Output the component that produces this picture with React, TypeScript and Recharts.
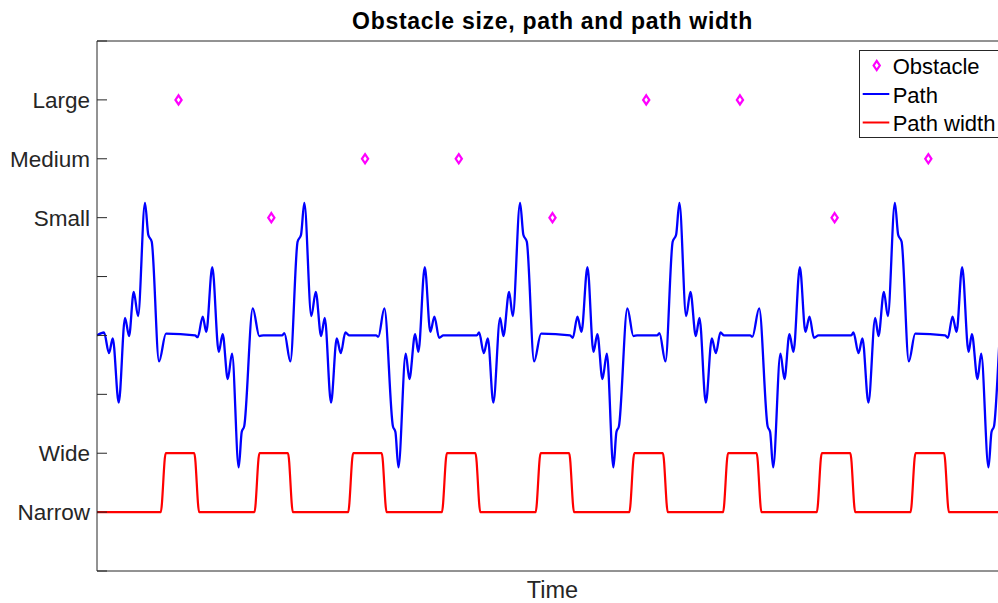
import React from "react";
import { ComposedChart, Line, Scatter, XAxis, YAxis, Legend, Label } from "recharts";

// time axis: one unit per obstacle spacing / 10
const pathTime = [
  0, 0.75, 1.28, 1.68, 2.32, 2.99, 3.42, 3.92, 4.38, 5.12, 5.47, 5.84, 6.62, 7.36,
  10.46, 10.75, 11.28, 11.66, 12.3, 12.99, 13.41, 13.95, 14.41, 15.12, 15.44, 15.71, 16.62, 17.32, 17.75,
  19.74, 19.99, 20.63, 21.4, 21.77, 22.12, 22.87, 23.34, 23.91, 24.3, 24.97, 25.58, 26.01, 26.5, 26.93,
  29.78, 30.02, 30.66, 31.57, 31.84, 32.16, 32.94, 33.33, 33.94, 34.29, 34.97, 35.57, 36.0, 36.5, 36.96,
  40.52, 40.77, 41.27, 41.7, 42.29, 43.01, 43.36, 43.97, 44.36, 45.14, 45.49, 45.86, 46.64, 47.38,
  50.48, 50.77, 51.26, 51.69, 52.33, 52.97, 53.39, 53.93, 54.4, 55.1, 55.42, 55.69, 56.59, 57.23, 57.63,
  59.76, 60.01, 60.65, 61.42, 61.79, 62.14, 62.86, 63.32, 63.89, 64.28, 64.96, 65.6, 66.03, 66.52, 66.91,
  69.69, 69.93, 70.65, 71.55, 71.82, 72.14, 72.92, 73.35, 73.88, 74.31, 74.99, 75.59, 76.02, 76.49, 76.98,
  80.47, 80.71, 81.25, 81.67, 82.31, 83.03, 83.38, 83.96, 84.38, 85.13, 85.48, 85.85, 86.62, 87.3,
  90.5, 90.79, 91.28, 91.71, 92.31, 92.99, 93.35, 93.95, 94.34, 95.12, 95.44, 95.71, 96.62, 97.2,
];
const pathValue = [
  3.0, 3.05, 2.7, 2.95, 1.86, 3.3, 2.99, 3.74, 3.33, 5.25, 4.71, 4.59, 2.56, 3.03,
  3.0, 2.97, 3.32, 3.06, 4.16, 2.72, 3.02, 2.26, 2.69, 0.76, 1.36, 1.46, 3.46, 2.99, 3.0,
  3.0, 3.04, 2.56, 4.59, 4.71, 5.25, 3.33, 3.74, 2.99, 3.3, 1.86, 2.95, 2.7, 3.05, 3.0,
  3.0, 2.98, 3.46, 1.46, 1.36, 0.76, 2.69, 2.26, 3.02, 2.72, 4.16, 3.06, 3.32, 2.96, 3.0,
  3.0, 3.05, 2.7, 2.95, 1.86, 3.3, 2.99, 3.74, 3.33, 5.25, 4.71, 4.59, 2.56, 3.03,
  3.0, 2.96, 3.32, 3.06, 4.16, 2.72, 3.02, 2.26, 2.69, 0.76, 1.36, 1.46, 3.46, 2.99, 3.0,
  3.0, 3.04, 2.56, 4.59, 4.71, 5.25, 3.33, 3.74, 2.99, 3.3, 1.86, 2.95, 2.7, 3.05, 3.0,
  3.0, 2.98, 3.46, 1.46, 1.36, 0.76, 2.69, 2.26, 3.02, 2.72, 4.16, 3.06, 3.32, 2.96, 3.0,
  3.0, 3.05, 2.7, 2.95, 1.86, 3.3, 2.99, 3.74, 3.33, 5.25, 4.71, 4.59, 2.56, 3.03,
  3.0, 2.96, 3.32, 3.06, 4.16, 2.72, 3.02, 2.26, 2.69, 0.76, 1.36, 1.46, 3.46, 2.99,
];

const widthTime = [
  0, 6.8, 7.33, 10.38, 10.9, 16.8, 17.33, 20.38, 20.9, 26.8, 27.33, 30.38, 30.9,
  36.8, 37.33, 40.38, 40.9, 46.8, 47.33, 50.38, 50.9, 56.8, 57.33, 60.38, 60.9,
  66.8, 67.33, 70.38, 70.9, 76.8, 77.33, 80.38, 80.9, 86.8, 87.33, 90.38, 90.9, 97.2,
];
const widthValue = [
  0, 0, 1, 1, 0, 0, 1, 1, 0, 0, 1, 1, 0,
  0, 1, 1, 0, 0, 1, 1, 0, 0, 1, 1, 0,
  0, 1, 1, 0, 0, 1, 1, 0, 0, 1, 1, 0, 0,
];

const obstacleTime = [8.7, 18.6, 28.6, 38.6, 48.6, 58.6, 68.6, 78.7, 88.7];
const obstacleSize = [7, 5, 6, 6, 5, 7, 7, 5, 6];

const sizeTicks = [-1, 0, 1, 2, 3, 4, 5, 6, 7, 8];
const sizeLabels: Record<number, string> = { 0: "Narrow", 1: "Wide", 5: "Small", 6: "Medium", 7: "Large" };

const pathData = pathTime.map((t, i) => ({ t, v: pathValue[i] }));
const widthData = widthTime.map((t, i) => ({ t, v: widthValue[i] }));
const obstacleData = obstacleTime.map((t, i) => ({ t, v: obstacleSize[i] }));

const FONT = '"Liberation Sans", Arial, Helvetica, sans-serif';
const AXIS = "#262626";
const BLUE = "#0000ff";
const RED = "#ff0000";
const MAGENTA = "#ff00ff";

function SizeTick(props: any) {
  const { x, y, payload } = props;
  const axisX = x + 7;
  return (
    <g>
      <line x1={axisX} x2={axisX + 10} y1={y} y2={y} stroke={AXIS} strokeWidth={1} />
      <text x={x} y={y} dy="0.355em" textAnchor="end" fontSize={22.5} fill={AXIS} fontFamily={FONT}>
        {sizeLabels[payload.value] ?? ""}
      </text>
    </g>
  );
}

function Diamond(props: any) {
  const { cx, cy } = props;
  if (cx == null || cy == null) return null;
  return (
    <polygon
      points={`${cx},${cy - 4.6} ${cx + 3.1},${cy} ${cx},${cy + 4.6} ${cx - 3.1},${cy}`}
      fill="none"
      stroke={MAGENTA}
      strokeWidth={2.2}
    />
  );
}

function TitleLabel(props: any) {
  const vb = props.viewBox;
  return (
    <text
      x={vb.x + vb.width / 2}
      y={vb.y + vb.height - 12}
      textAnchor="middle"
      fontSize={23}
      letterSpacing={0.7}
      fontWeight="bold"
      fill="#000"
      fontFamily={FONT}
    >
      Obstacle size, path and path width
    </text>
  );
}

function TimeLabel(props: any) {
  const vb = props.viewBox;
  return (
    <text x={vb.x + vb.width / 2} y={vb.y + vb.height - 5} textAnchor="middle" fontSize={23.5} fill={AXIS} fontFamily={FONT}>
      Time
    </text>
  );
}

function LegendBox() {
  const rows = [
    { name: "Obstacle", kind: "marker", color: MAGENTA },
    { name: "Path", kind: "line", color: BLUE },
    { name: "Path width", kind: "line", color: RED },
  ];
  return (
    <svg width={150} height={88} style={{ display: "block" }}>
      <rect x={0.5} y={0.5} width={149} height={87} fill="#fff" stroke={AXIS} strokeWidth={1} />
      {rows.map((r, i) => {
        const cy = 16.5 + i * 28.5;
        return (
          <g key={r.name}>
            {r.kind === "marker" ? (
              <Diamond cx={17.7} cy={cy - 1} />
            ) : (
              <line x1={3.7} x2={30.3} y1={cy - 1} y2={cy - 1} stroke={r.color} strokeWidth={2} />
            )}
            <text x={33.7} y={cy} dy="0.355em" fontSize={22} fill="#000" fontFamily={FONT}>
              {r.name}
            </text>
          </g>
        );
      })}
    </svg>
  );
}

export default function App() {
  return (
    <div
      style={{
        position: "fixed",
        left: 0,
        top: 0,
        width: 998,
        height: 603,
        overflow: "hidden",
        background: "#fff",
      }}
    >
      <ComposedChart width={1020} height={603} margin={{ top: 0, right: 12, bottom: 0, left: 0 }}>
        <XAxis
          xAxisId="top"
          orientation="top"
          type="number"
          domain={[0, 97.2]}
          height={41}
          tick={false}
          tickLine={false}
          axisLine={{ stroke: AXIS, strokeWidth: 1 }}
        >
          <Label content={TitleLabel} />
        </XAxis>
        <XAxis
          dataKey="t"
          type="number"
          domain={[0, 97.2]}
          allowDataOverflow
          height={32}
          tick={false}
          tickLine={false}
          axisLine={{ stroke: AXIS, strokeWidth: 1 }}
        >
          <Label content={TimeLabel} />
        </XAxis>
        <YAxis
          type="number"
          domain={[-1, 8]}
          ticks={sizeTicks}
          interval={0}
          width={97}
          tickSize={0}
          tickMargin={7}
          tickLine={false}
          tick={<SizeTick />}
          axisLine={{ stroke: AXIS, strokeWidth: 1 }}
        />
        <Legend
          layout="vertical"
          align="center"
          verticalAlign="middle"
          content={() => <LegendBox />}
          wrapperStyle={{ left: 859, top: 50, width: 150, height: 88 }}
        />
        <Scatter data={obstacleData} dataKey="v" shape={<Diamond />} isAnimationActive={false} />
        <Line
          data={pathData}
          dataKey="v"
          type="monotone"
          stroke={BLUE}
          strokeWidth={2.3}
          dot={false}
          activeDot={false}
          isAnimationActive={false}
        />
        <Line
          data={widthData}
          dataKey="v"
          type="monotone"
          stroke={RED}
          strokeWidth={2.2}
          dot={false}
          activeDot={false}
          isAnimationActive={false}
        />
      </ComposedChart>
    </div>
  );
}
